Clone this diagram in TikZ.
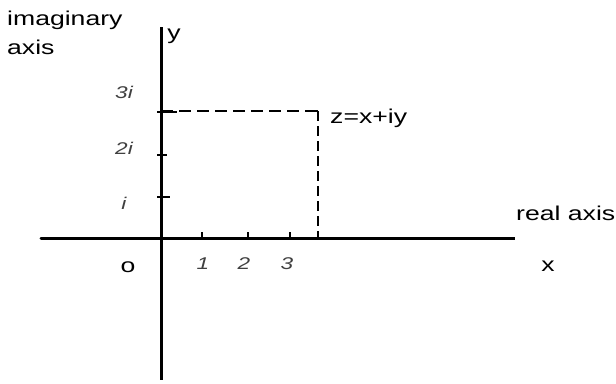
\documentclass[tikz,border=0pt]{standalone}
\usepackage{graphicx}
\usepackage{fontspec}
\setmainfont{Liberation Sans}
\usepackage{tikz}
\usetikzlibrary{positioning}
\newcommand{\wtxt}[1]{\scalebox{1.33}[1]{#1}}

\begin{document}
\begin{tikzpicture}[x=1pt, y=-1pt,
    lbl/.style={font=\fontsize{20}{22}\selectfont, inner sep=0pt},
    num/.style={font=\fontsize{17}{19}\selectfont\itshape, text=black!75, inner sep=0pt},
    axis/.style={line width=3pt},
    tick/.style={line width=1.4pt},
    guide/.style={line width=1.5pt, dash pattern=on 12pt off 6pt}]
    \useasboundingbox (0,0) rectangle (616,383);
    % axes
    \coordinate (O) at (161,238);
    \coordinate (xl) at (41,238);
    \coordinate (xr) at (515,238);
    \coordinate (yt) at (161,27);
    \coordinate (yb) at (161,380);
    \draw[axis, line cap=round] (xl) -- (O);
    \draw[axis] (O) -- (xr);
    \draw[axis] (yt) -- (yb);
    % ticks
    \foreach \x/\t in {202/1, 248/2, 290/3}
      \draw[tick] (\x,238) -- (\x,232);
    \foreach \y/\e in {197/170, 155/167, 112/177}
      \draw[tick] (157,\y) -- (\e,\y);
    % the point z
    \coordinate (z) at (318,111);
    \coordinate (zy) at (161,111);
    \coordinate (zx) at (318,238);
    \draw[guide] (zy) -- (z);
    \draw[line width=1.5pt, dash pattern=on 10pt off 5pt] (z) -- (zx);
    \draw[tick] (310,111) -- (z);
    % labels
    \node[lbl, anchor=west] (imag) at (7,20) {\wtxt{imaginary}};
    \node[lbl, anchor=west] (imax) at (7,47) {\wtxt{axis}};
    \node[lbl] (ylbl) at (174,36) {\wtxt{y}};
    \node[lbl, anchor=west] (zlbl) at (330,118) {\wtxt{z=x+iy}};
    \node[lbl, anchor=west] (real) at (516,213) {\wtxt{real axis}};
    \node[lbl] (xlbl) at (548,266) {\wtxt{x}};
    \node[lbl] (olbl) at (128,267) {\wtxt{o}};
    \node[num] (n1) at (203,264) {\wtxt{1}};
    \node[num] (n2) at (244,264) {\wtxt{2}};
    \node[num] (n3) at (287,264) {\wtxt{3}};
    \node[num] (i3) at (124,92) {\wtxt{3i}};
    \node[num] (i2) at (124,148) {\wtxt{2i}};
    \node[num] (i1) at (124,203) {\wtxt{i}};
\end{tikzpicture}
\end{document}
